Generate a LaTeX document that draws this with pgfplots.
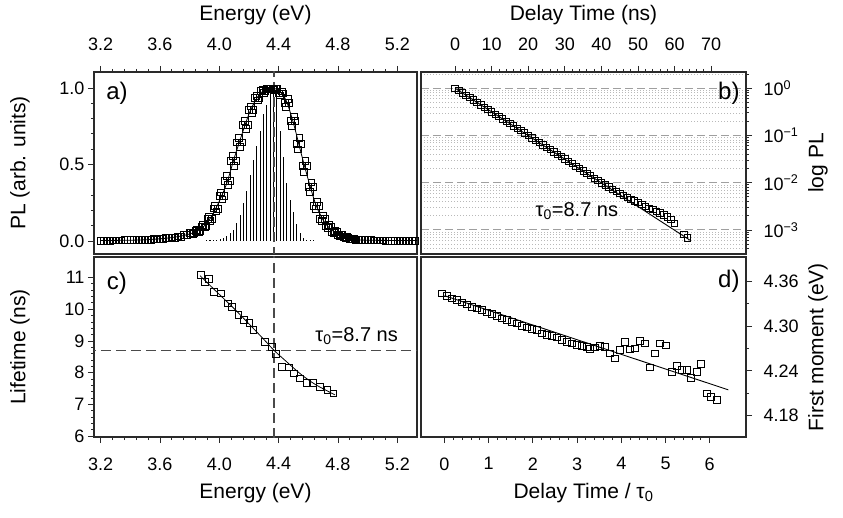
\documentclass[border=0pt]{standalone}
\usepackage{fontspec}
\setmainfont{Liberation Sans}
\usepackage{pgfplots}
\pgfplotsset{compat=1.18}
\definecolor{frame}{HTML}{2A2A2A}
\definecolor{dashc}{HTML}{4A4A4A}
\pgfplotsset{
  panel/.style={
    scale only axis,
    axis line style={draw=frame, line width=1.4pt},
    tick align=outside,
    major tick length=6pt,
    minor tick length=3pt,
    every tick/.style={draw=frame, line width=0.9pt},
    tick label style={font=\fontsize{18}{20}\selectfont, text=black},
    label style={font=\fontsize{21}{24}\selectfont},
    /pgf/number format/assume math mode=true,
  },
  sq/.style={only marks, mark=square, mark size=3.4pt, mark options={draw=black, line width=0.7pt, fill=none}},
  refdash/.style={dashc, line width=1.5pt, dash pattern=on 10pt off 5pt},
}
\begin{document}
\begin{tikzpicture}
\useasboundingbox (0,0) rectangle (843pt,517pt);
% ---------------- panel a
\begin{axis}[panel, at={(94pt,263pt)}, anchor=south west, width=323pt, height=182pt,
  xmin=3.155, xmax=5.333, ymin=-0.085, ymax=1.105,
  xtick={3.2,3.6,4.0,4.4,4.8,5.2}, xticklabels={3.2,3.6,4.0,4.4,4.8,5.2},
  minor x tick num=4, xtick pos=right, xticklabel pos=right,
  xticklabel style={yshift=12pt},
  ytick={0,0.5,1}, yticklabels={0.0,0.5,1.0}, minor y tick num=4, ytick pos=left,
  xlabel={Energy (eV)}, ylabel={PL (arb. units)},
  xlabel style={at={(axis description cs:0.5,1)}, anchor=center, yshift=57pt},
  ylabel style={at={(axis description cs:-0.229,0.5)}, anchor=center},
  ]
\addplot[ycomb, black, line width=1.1pt] coordinates {
(3.915,0.004) (3.9375,0.004) (3.96,0.005) (3.9825,0.006) (4.005,0.012) (4.0275,0.022)
(4.05,0.033) (4.0725,0.05) (4.095,0.075) (4.1175,0.115) (4.14,0.17) (4.1625,0.25)
(4.185,0.33) (4.2075,0.43) (4.23,0.53) (4.2525,0.62) (4.275,0.72) (4.2975,0.83)
(4.32,0.89) (4.3425,0.96) (4.365,1.0) (4.3875,0.95) (4.41,0.72) (4.4325,0.55)
(4.455,0.38) (4.4775,0.27) (4.50,0.19) (4.5225,0.11) (4.545,0.05) (4.5675,0.02)
(4.59,0.008) (4.6125,0.005) (4.635,0.004)};
\addplot[refdash] coordinates {(4.37,-0.2) (4.37,1.2)};
\addplot[sq] coordinates {
(3.20,0.003) (3.24,0.003) (3.28,0.004) (3.32,0.004) (3.36,0.005) (3.40,0.005) (3.44,0.006)
(3.48,0.007) (3.52,0.009) (3.56,0.012) (3.60,0.015) (3.64,0.019) (3.68,0.024) (3.72,0.030)
(3.76,0.040) (3.80,0.051) (3.84,0.068) (3.88,0.096) (3.92,0.146) (3.96,0.213) (4.00,0.295)
(4.04,0.393) (4.08,0.524) (4.12,0.645) (4.16,0.76) (4.20,0.86) (4.24,0.936) (4.28,0.98)
(4.32,0.996) (4.36,0.993) (4.40,0.966) (4.44,0.905) (4.48,0.785) (4.52,0.637) (4.56,0.49)
(4.60,0.352) (4.64,0.23) (4.68,0.147) (4.72,0.096) (4.76,0.062) (4.80,0.039) (4.84,0.024)
(4.88,0.013) (4.92,0.0085) (4.96,0.006) (5.00,0.005) (5.04,0.004) (5.08,0.004) (5.12,0.003)
(5.16,0.003) (5.20,0.003) (5.24,0.003) (5.28,0.003) (5.32,0.003)};
\addplot[sq] coordinates {
(3.22,0.003) (3.26,0.003) (3.30,0.004) (3.34,0.004) (3.38,0.005) (3.42,0.005) (3.46,0.006)
(3.50,0.007) (3.54,0.009) (3.58,0.011) (3.62,0.014) (3.66,0.018) (3.70,0.022) (3.74,0.028)
(3.78,0.038) (3.82,0.048) (3.86,0.062) (3.90,0.089) (3.94,0.133) (3.98,0.194) (4.02,0.272)
(4.06,0.365) (4.10,0.491) (4.14,0.615) (4.18,0.732) (4.22,0.84) (4.26,0.92) (4.30,0.969)
(4.34,0.993) (4.38,0.996) (4.42,0.979) (4.46,0.927) (4.50,0.815) (4.54,0.675) (4.58,0.526)
(4.62,0.384) (4.66,0.256) (4.70,0.168) (4.74,0.108) (4.78,0.068) (4.82,0.043) (4.86,0.027)
(4.90,0.016) (4.94,0.0095) (4.98,0.007) (5.02,0.005) (5.06,0.004) (5.10,0.004) (5.14,0.003)
(5.18,0.003) (5.22,0.003) (5.26,0.003) (5.30,0.003) (5.34,0.003)};
\addplot[sq] coordinates {
(3.81,0.055) (3.85,0.075) (3.89,0.1065) (3.93,0.1585) (3.97,0.2315) (4.01,0.3185)
(4.05,0.426) (4.09,0.555) (4.13,0.675) (4.17,0.788) (4.21,0.88) (4.25,0.9465)
(4.29,0.9865) (4.33,0.9985) (4.37,0.9895) (4.41,0.9525) (4.45,0.875) (4.49,0.751)
(4.53,0.599) (4.57,0.454) (4.61,0.32) (4.65,0.209) (4.69,0.131) (4.73,0.084)
(4.77,0.055) (4.81,0.035) (4.85,0.021) (4.89,0.0115)};
\addplot[sq] coordinates {
(3.83,0.051) (3.87,0.068) (3.91,0.096) (3.95,0.1455) (3.99,0.2125) (4.03,0.295)
(4.07,0.393) (4.11,0.524) (4.15,0.645) (4.19,0.76) (4.23,0.86) (4.27,0.936)
(4.31,0.98) (4.35,0.996) (4.39,0.993) (4.43,0.966) (4.47,0.905) (4.51,0.785)
(4.55,0.637) (4.59,0.49) (4.63,0.352) (4.67,0.23) (4.71,0.147) (4.75,0.096)
(4.79,0.062) (4.83,0.039) (4.87,0.024) (4.91,0.013)};
\addplot[black, line width=0.8pt, smooth] coordinates {
(3.20,0.003) (3.30,0.004) (3.40,0.005) (3.50,0.008) (3.58,0.013) (3.65,0.019) (3.69,0.024)
(3.75,0.034) (3.80,0.046) (3.85,0.064) (3.90,0.10) (3.95,0.165) (4.00,0.26) (4.05,0.377)
(4.10,0.54) (4.15,0.69) (4.20,0.83) (4.25,0.93) (4.30,0.985) (4.35,1.0) (4.40,0.985)
(4.45,0.92) (4.50,0.77) (4.55,0.58) (4.60,0.40) (4.65,0.24) (4.70,0.137) (4.75,0.078)
(4.80,0.045) (4.85,0.025) (4.90,0.012) (4.95,0.007) (5.00,0.005) (5.10,0.004) (5.35,0.003)};
\node[font=\fontsize{24}{26}\selectfont] at (axis description cs:0.071,0.883) {a)};
\end{axis}
% ---------------- panel b
\begin{axis}[panel, at={(421pt,263pt)}, anchor=south west, width=325pt, height=182pt,
  ymode=log, xmin=-9.3, xmax=79.5, ymin=3.1e-4, ymax=2.2,
  xtick={0,10,20,30,40,50,60,70}, xticklabels={0,10,20,30,40,50,60,70},
  minor x tick num=4, xtick pos=right, xticklabel pos=right,
  xticklabel style={yshift=12pt},
  ytick={1,0.1,0.01,0.001},
  yticklabels={10\textsuperscript{0},10\textsuperscript{−1},10\textsuperscript{−2},10\textsuperscript{−3}},
  yticklabel style={xshift=8pt},
  minor ytick={0.0004,0.0005,0.0006,0.0007,0.0008,0.0009,0.002,0.003,0.004,0.005,0.006,0.007,0.008,0.009,0.02,0.03,0.04,0.05,0.06,0.07,0.08,0.09,0.2,0.3,0.4,0.5,0.6,0.7,0.8,0.9,2},
  ytick pos=right, yticklabel pos=right,
  ymajorgrids, yminorgrids,
  major grid style={draw=gray!75, line width=1pt, dash pattern=on 8pt off 4pt},
  minor grid style={draw=gray!55, line width=0.6pt, dash pattern=on 1pt off 2pt},
  xlabel={Delay Time (ns)}, ylabel={log PL},
  xlabel style={at={(axis description cs:0.5,1)}, anchor=center, yshift=57pt},
  ylabel style={at={(axis description cs:1.2215,0.5)}, anchor=center},
  ]
\addplot[black, line width=0.9pt] coordinates {(0,1) (64.3,0.0006)};
\addplot[sq, mark size=3.2pt] coordinates {
(0,1.0) (1,0.8914) (2,0.7946) (3,0.7083) (4,0.6314) (5,0.5629) (6,0.5017) (7,0.4473)
(8,0.3987) (9,0.3554) (10,0.3168) (11,0.2824) (12,0.2517) (13,0.2244) (14,0.2000)
(15,0.1783) (16,0.1589) (17,0.1417) (18,0.1263) (19,0.1126) (20,0.1004) (21,0.0895)
(22,0.0798) (23,0.0711) (24,0.0634) (25,0.0565) (26,0.0504) (27,0.0449) (28,0.0400)
(29,0.0357) (30,0.0318) (31,0.0283) (32,0.0253) (33,0.0225) (34,0.0201) (35,0.0179)
(36,0.0160) (37,0.0142) (38,0.0125) (39,0.0112) (40,0.0100) (41,0.0090) (42,0.0081)
(43,0.0073) (44,0.0066) (45,0.0059) (46,0.0054) (47,0.0049) (48,0.0045) (49,0.0041)
(50,0.0038) (51,0.0035) (52,0.0032) (53,0.0029) (54,0.0027) (55,0.0025) (56,0.0023)
(57,0.0021) (58,0.0019) (59,0.0017) (60,0.0014) (62.5,0.00080) (63.5,0.00068)};
\node[font=\fontsize{20}{22}\selectfont] at (axis cs:33.3,0.00246) {τ\textsubscript{0}=8.7 ns};
\node[font=\fontsize{24}{26}\selectfont, anchor=east] at (axis description cs:0.991,0.883) {b)};
\end{axis}
% ---------------- panel c
\begin{axis}[panel, at={(94pt,80pt)}, anchor=south west, width=323pt, height=180pt,
  xmin=3.155, xmax=5.333, ymin=5.97, ymax=11.65,
  xtick={3.2,3.6,4.0,4.4,4.8,5.2}, xticklabels={3.2,3.6,4.0,4.4,4.8,5.2},
  minor x tick num=4, xtick pos=left, xticklabel pos=left,
  xticklabel style={yshift=-11pt},
  ytick={6,7,8,9,10,11}, yticklabels={6,7,8,9,10,11}, minor y tick num=4, ytick pos=left,
  xlabel={Energy (eV)}, ylabel={Lifetime (ns)},
  xlabel style={at={(axis description cs:0.5,0)}, anchor=center, yshift=-56pt},
  ylabel style={at={(axis description cs:-0.229,0.5)}, anchor=center},
  ]
\addplot[refdash] coordinates {(4.37,5) (4.37,12)};
\addplot[refdash] coordinates {(3.1,8.7) (5.4,8.7)};
\addplot[black, line width=0.8pt, smooth] coordinates {
(3.87,11.06) (4.0,10.47) (4.1,10.02) (4.2,9.54) (4.3,9.05) (4.37,8.70) (4.45,8.36)
(4.55,7.95) (4.65,7.62) (4.78,7.30)};
\addplot[sq] coordinates {
(3.874,11.08) (3.932,10.97) (3.903,10.87) (3.964,10.55) (4.009,10.50) (4.06,10.19)
(4.083,10.08) (4.128,9.82) (4.166,9.66) (4.202,9.56) (4.229,9.34) (4.308,8.97)
(4.353,8.82) (4.38,8.59) (4.42,8.19) (4.47,8.17) (4.503,7.98) (4.544,7.82)
(4.589,7.68) (4.63,7.68) (4.679,7.56) (4.728,7.45) (4.769,7.35)};
\node[font=\fontsize{20}{22}\selectfont] at (axis cs:4.926,9.15) {τ\textsubscript{0}=8.7 ns};
\node[font=\fontsize{24}{26}\selectfont] at (axis description cs:0.071,0.853) {c)};
\end{axis}
% ---------------- panel d
\begin{axis}[panel, at={(421pt,80pt)}, anchor=south west, width=325pt, height=180pt,
  xmin=-0.53, xmax=6.82, ymin=4.151, ymax=4.393,
  xtick={0,1,2,3,4,5,6}, xticklabels={0,1,2,3,4,5,6}, minor x tick num=4,
  xtick pos=left, xticklabel pos=left,
  xticklabel style={yshift=-11pt},
  ytick={4.18,4.24,4.30,4.36}, yticklabels={4.18,4.24,4.30,4.36}, minor y tick num=1,
  yticklabel style={xshift=8pt},
  ytick pos=right, yticklabel pos=right,
  xlabel={Delay Time / τ\textsubscript{0}}, ylabel={First moment (eV)},
  xlabel style={at={(axis description cs:0.5,0)}, anchor=center, yshift=-56pt},
  ylabel style={at={(axis description cs:1.2215,0.5)}, anchor=center},
  ]
\addplot[black, line width=0.9pt] coordinates {(0,4.341) (6.42,4.2144)};
\addplot[sq] coordinates {
(-0.06,4.344) (0.049,4.341) (0.162,4.3374) (0.275,4.3352) (0.388,4.332) (0.501,4.3293)
(0.615,4.3262) (0.728,4.324) (0.84,4.3217) (0.954,4.3186) (1.067,4.3163) (1.18,4.3136)
(1.293,4.3105) (1.406,4.3083) (1.52,4.306) (1.633,4.3038) (1.746,4.3007) (1.86,4.2984)
(1.97,4.2962) (2.086,4.2949) (2.2,4.2904) (2.31,4.2881) (2.425,4.2868) (2.538,4.285)
(2.65,4.2814) (2.764,4.2792) (2.877,4.2769) (2.99,4.2747) (3.1,4.2734) (3.216,4.2725)
(3.29,4.2693) (3.405,4.2716) (3.52,4.2734) (3.63,4.2725) (3.744,4.2635) (3.857,4.2568)
(3.97,4.268) (4.083,4.2792) (4.196,4.2689) (4.31,4.2702) (4.42,4.2805) (4.536,4.2769)
(4.65,4.2447) (4.762,4.2635) (4.876,4.2769) (5.0,4.2742) (5.14,4.2389) (5.25,4.2465)
(5.365,4.2411) (5.48,4.2411) (5.576,4.2300) (5.7,4.2389) (5.8,4.2492) (5.93,4.2098)
(6.03,4.2053) (6.16,4.2008)};
\node[font=\fontsize{24}{26}\selectfont, anchor=east] at (axis description cs:0.991,0.864) {d)};
\end{axis}
\end{tikzpicture}
\end{document}
